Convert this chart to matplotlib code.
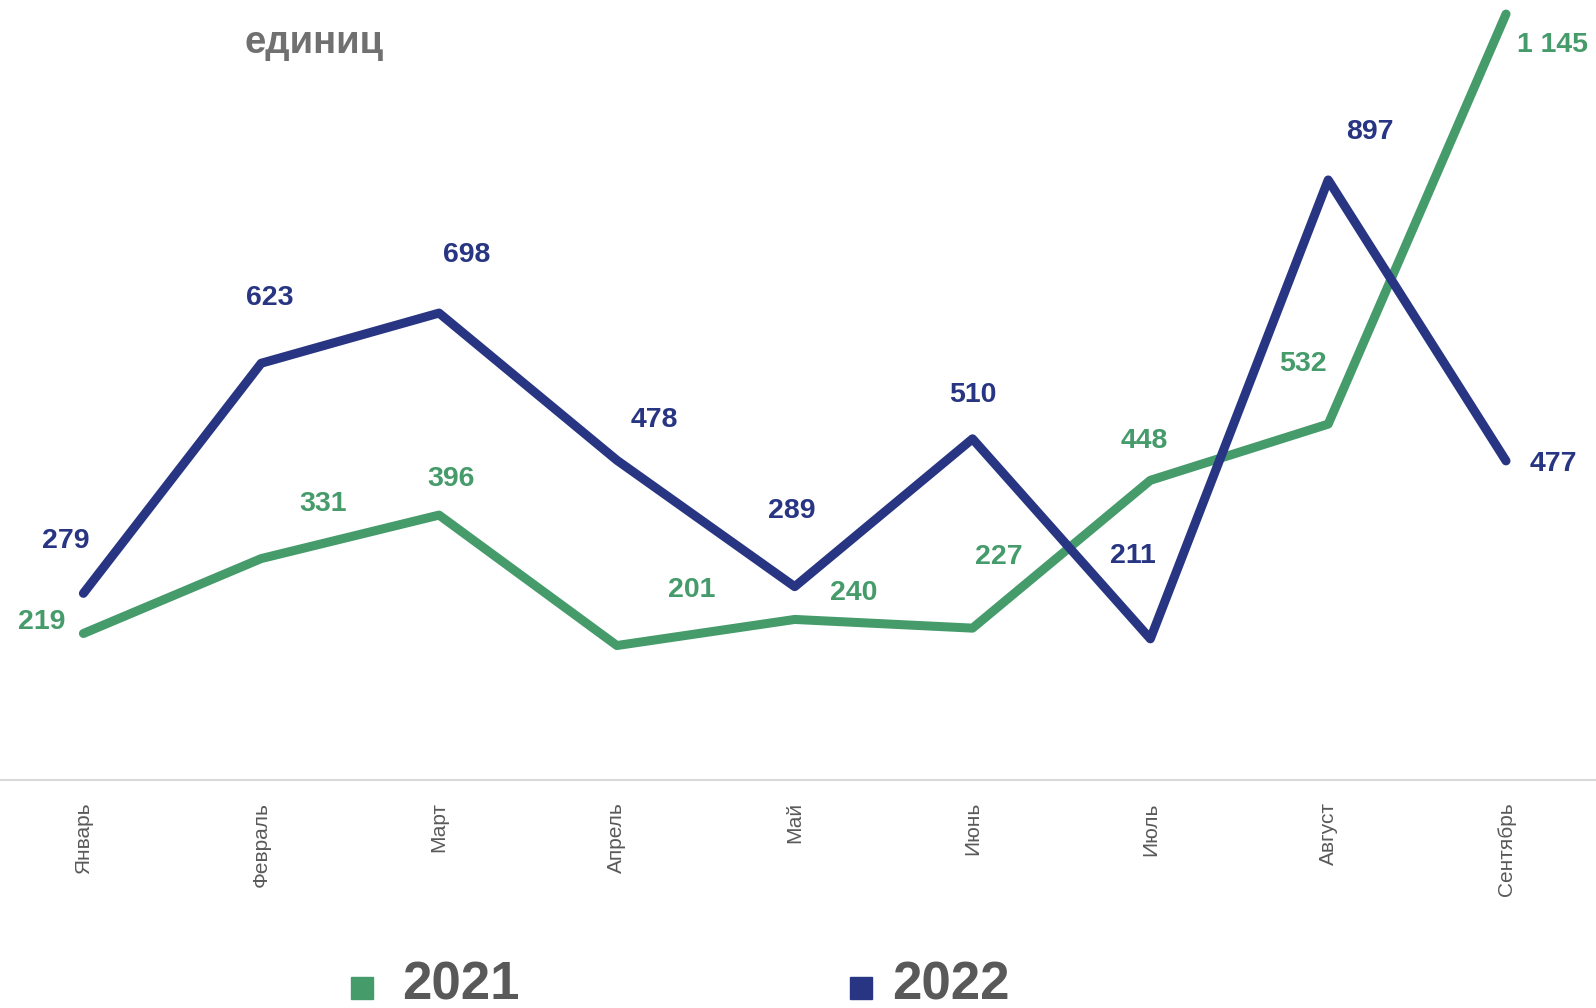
import matplotlib
matplotlib.use("Agg")
import matplotlib.pyplot as plt

plt.rcParams['font.family'] = ['Liberation Sans', 'DejaVu Sans']

months = ["Январь", "Февраль", "Март", "Апрель", "Май", "Июнь", "Июль", "Август", "Сентябрь"]
y2021 = [219, 331, 396, 201, 240, 227, 448, 532, 1145]
y2022 = [279, 623, 698, 478, 289, 510, 211, 897, 477]
labels2021 = ["219", "331", "396", "201", "240", "227", "448", "532", "1 145"]
labels2022 = ["279", "623", "698", "478", "289", "510", "211", "897", "477"]
series_names = ["2021", "2022"]

# label offsets in pixels (dx, dy)
off2021 = [(-42, 11), (62, 55), (12, 36), (75, 56), (59, 26), (26, 71), (-6, 39), (-25, 60), (46, -31)]
off2022 = [(-18, 52), (9, 65), (28, 58), (37, 40), (-3, 76), (0, 44), (-17, 83), (42, 48), (47, -3)]

green = "#459B6A"
navy = "#283583"
grey = "#595959"

fig = plt.figure(figsize=(15.96, 10.08), dpi=100)
ax = fig.add_axes([0, 0.2262, 1, 0.7738])

x = list(range(len(months)))
ax.plot(x, y2021, color=green, lw=6.5, solid_capstyle="round", solid_joinstyle="round", zorder=2)
ax.plot(x, y2022, color=navy, lw=6.5, solid_capstyle="round", solid_joinstyle="round", zorder=3)

for xi, v, t, o in zip(x, y2021, labels2021, off2021):
    ax.annotate(t, (xi, v), xytext=o, textcoords="offset pixels", ha="center", va="center",
                fontsize=20.5, fontweight="bold", color=green)
for xi, v, t, o in zip(x, y2022, labels2022, off2022):
    ax.annotate(t, (xi, v), xytext=o, textcoords="offset pixels", ha="center", va="center",
                fontsize=20.5, fontweight="bold", color=navy)

ax.set_xlim(-0.469, 8.506)
ax.set_ylim(0, 1166)
for s in ["top", "right", "left"]:
    ax.spines[s].set_visible(False)
ax.spines["bottom"].set_color("#d9d9d9")
ax.spines["bottom"].set_linewidth(1.5)
ax.set_yticks([])
ax.set_xticks(x)
ax.set_xticklabels(months, rotation=90, fontsize=15, color=grey, va="top")
ax.tick_params(axis="x", length=0, pad=16)

fig.text(0.153, 0.957, "единиц", fontsize=27.5, fontweight="bold", color="#707070", va="center")

# legend, drawn by hand to match spacing
for name, c, mx, tx in zip(series_names, [green, navy], [0.2270, 0.5396], [0.252, 0.559]):
    fig.add_artist(plt.Line2D([mx], [0.0194], marker="s", ls="", color=c, markersize=16,
                              transform=fig.transFigure))
    fig.text(tx, 0.008, name, fontsize=38, fontweight="bold", color=grey, va="baseline")

fig.savefig("out.png", dpi=100)
